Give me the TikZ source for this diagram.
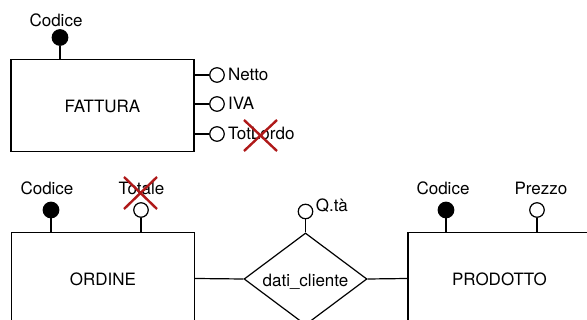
\documentclass[tikz,border=0pt]{standalone}
\usepackage{fontspec}
\setmainfont{TeX Gyre Heros}
\usetikzlibrary{shapes.geometric}
\definecolor{crossred}{RGB}{175,25,25}
\begin{document}
\begin{tikzpicture}[x=1pt,y=-1pt,line width=1.2pt,
  font=\fontsize{17}{20}\selectfont,
  entity/.style={draw,rectangle,minimum width=183pt,minimum height=92pt,inner sep=0pt,text height=14.5pt,text depth=0pt},
  relation/.style={draw,diamond,aspect=1.34,minimum width=123pt,minimum height=92pt,inner sep=0pt,text height=14.5pt,text depth=0pt},
  keyattr/.style={draw,circle,fill=black,minimum size=15.5pt,inner sep=0pt},
  attr/.style={draw,circle,fill=white,minimum size=14.5pt,inner sep=0pt},
  lbl/.style={inner sep=0pt,anchor=base},
  lblw/.style={inner sep=0pt,anchor=base west},
  strike/.style={draw=crossred,line width=2.4pt}]
\useasboundingbox (0,0) rectangle (587,320);
\begin{scope}
\clip (0,0) rectangle (587,320);
% FATTURA
\node[entity] (fattura) at (102.5,105.5) {FATTURA};
\node[keyattr] (fcod) at (60,37.5) {};
\node[lbl] (fcodl) at (56,26.7) {Codice};
\draw (fcod) -- (fcod |- fattura.north);
\node[attr] (fnet) at (217,75) {};
\node[lblw] (fnetl) at (227.5,81) {Netto};
\draw (fnet) -- (fnet -| fattura.east);
\node[attr] (fiva) at (217,104) {};
\node[lblw] (fival) at (227.5,109.5) {IVA};
\draw (fiva) -- (fiva -| fattura.east);
\node[attr] (ftot) at (217,134) {};
\node[lblw] (ftotl) at (227.5,140) {TotLordo};
\draw (ftot) -- (ftot -| fattura.east);
\draw[strike] (244,120) -- (277,151) (277,120) -- (244,151);
% ORDINE
\node[entity] (ordine) at (103,278.5) {ORDINE};
\node[keyattr] (ocod) at (51,210) {};
\node[lbl] (ocodl) at (47,195) {Codice};
\draw (ocod) -- (ocod |- ordine.north);
\node[attr] (otot) at (141,210) {};
\node[lbl] (ototl) at (141.5,195) {Totale};
\draw (otot) -- (otot |- ordine.north);
\draw[strike] (124,177) -- (157,209) (157,177) -- (124,209);
% relationship
\node[relation] (dati) at (305.5,279) {dati\_cliente};
\node[attr] (qta) at (305.5,211.5) {};
\node[lblw] (qtal) at (315.2,212) {Q.tà};
\draw (qta) -- (dati.north);
% PRODOTTO
\node[entity] (prodotto) at (499.5,278.5) {PRODOTTO};
\node[keyattr] (pcod) at (446,210) {};
\node[lbl] (pcodl) at (443,195) {Codice};
\draw (pcod) -- (pcod |- prodotto.north);
\node[attr] (ppre) at (537,210) {};
\node[lbl] (pprel) at (541,195) {Prezzo};
\draw (ppre) -- (ppre |- prodotto.north);
% connectors
\draw (ordine.east) -- (dati.west);
\draw (dati.east) -- (prodotto.west);
\end{scope}
\end{tikzpicture}
\end{document}
